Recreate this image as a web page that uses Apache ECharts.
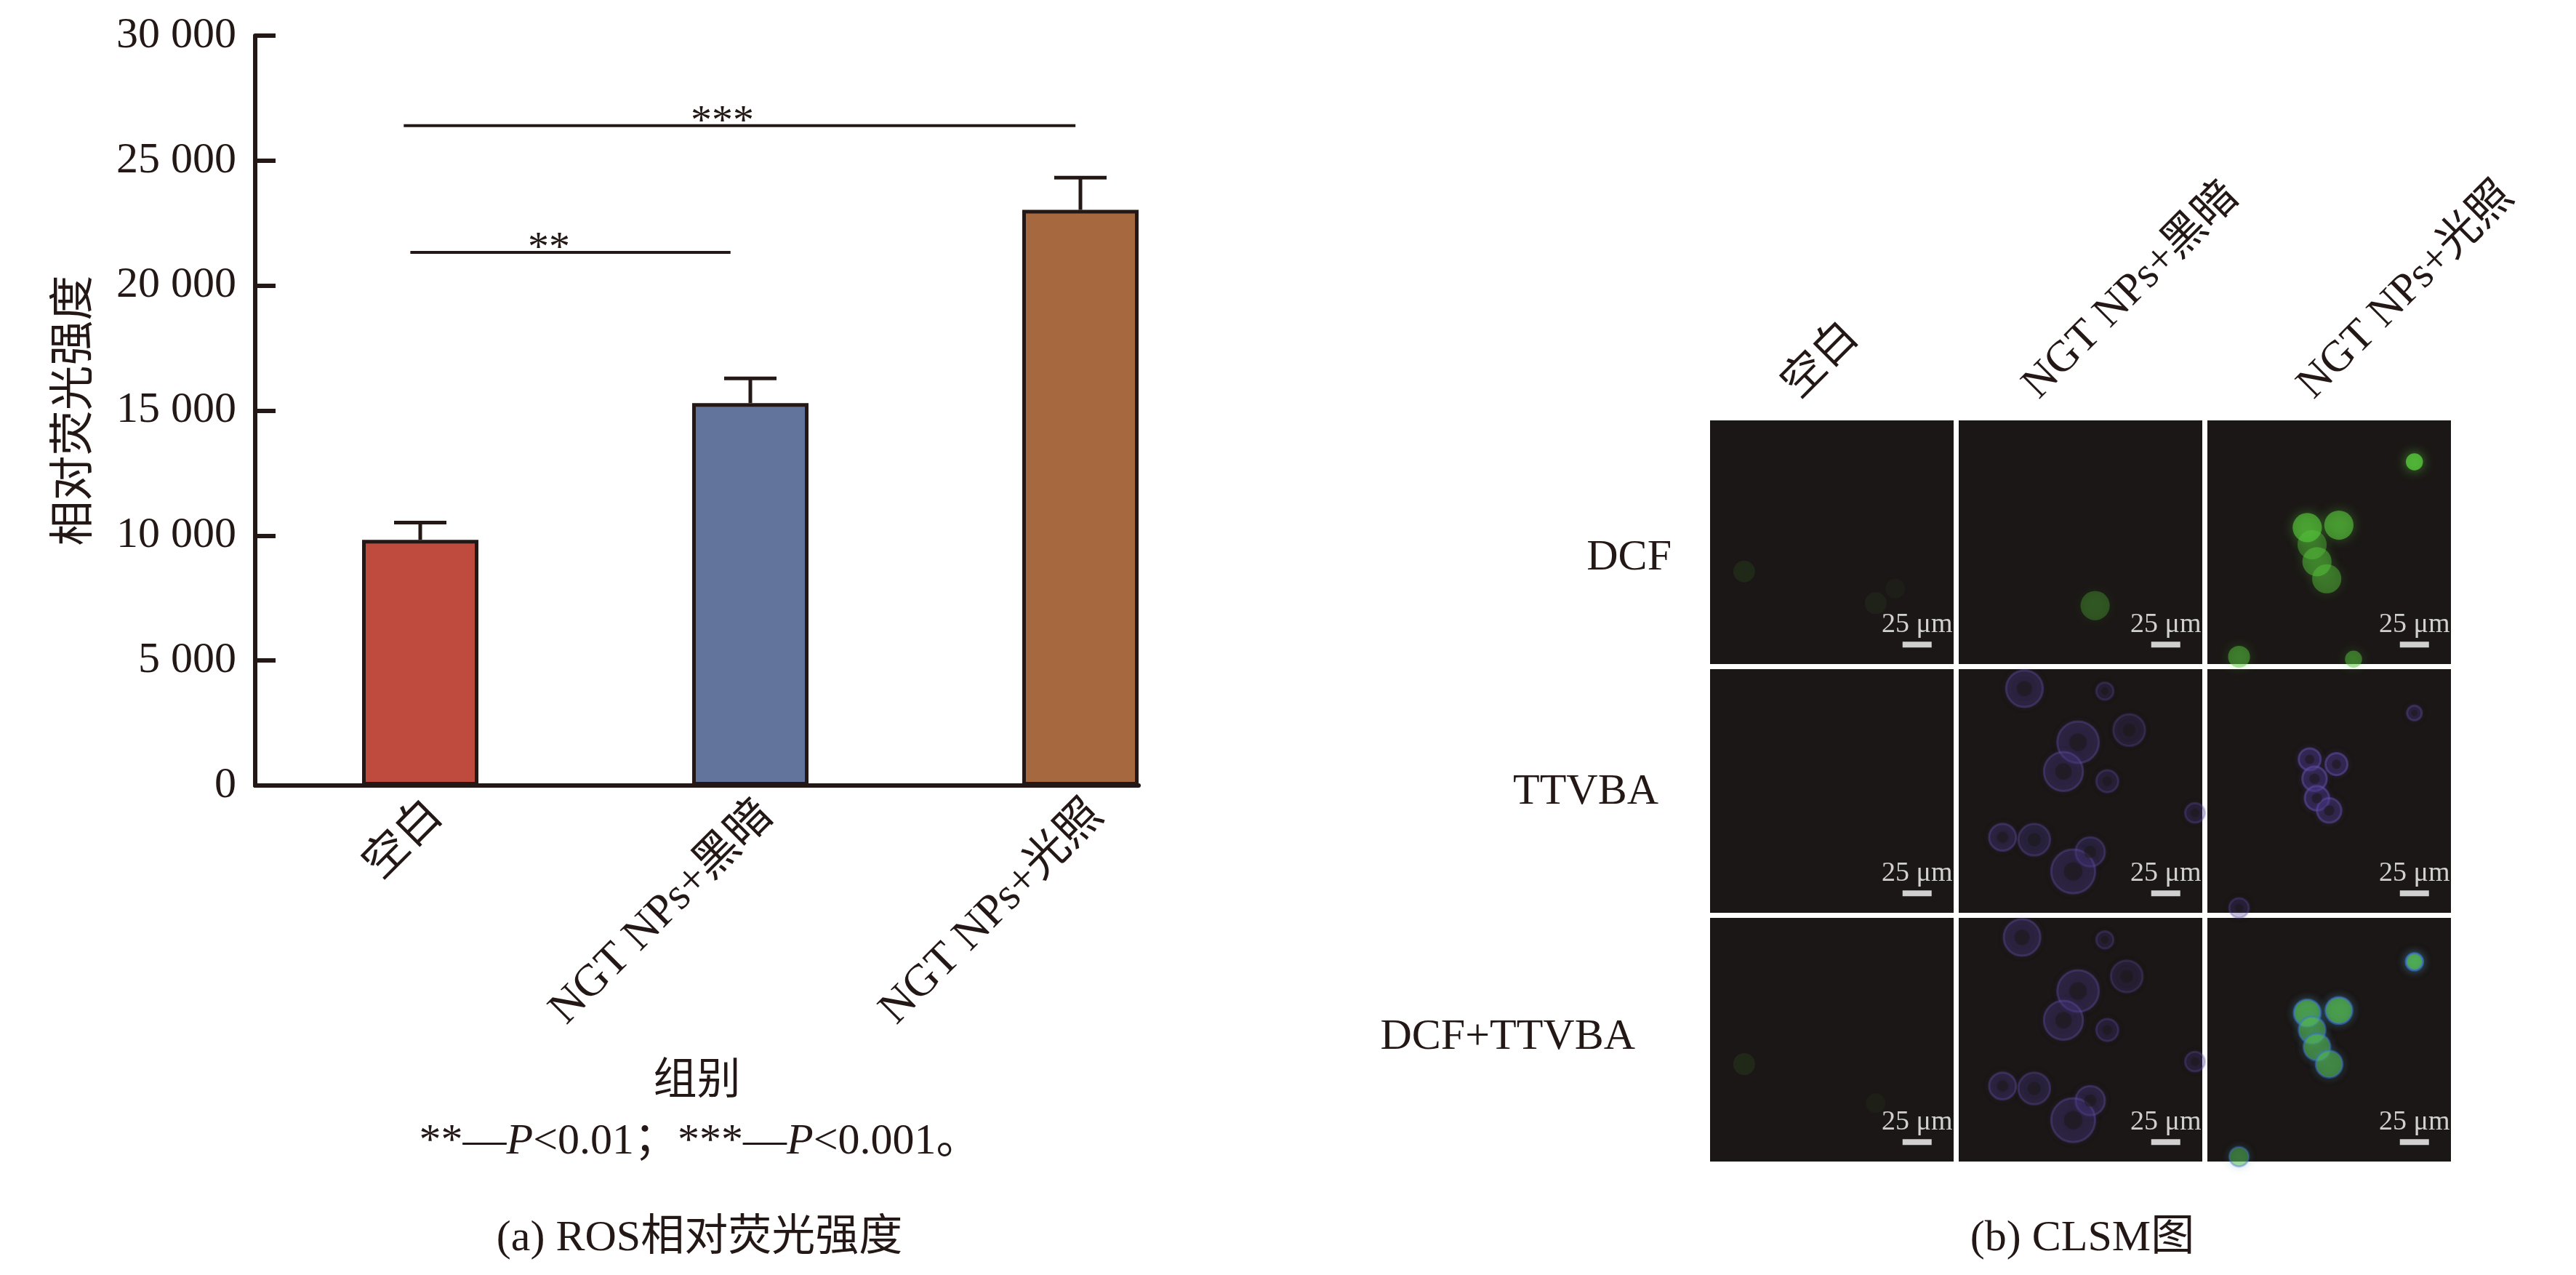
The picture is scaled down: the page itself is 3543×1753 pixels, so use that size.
<!DOCTYPE html>
<html><head><meta charset="utf-8">
<script src="https://cdn.jsdelivr.net/npm/echarts@6/dist/echarts.min.js"></script>
<style>html,body{margin:0;padding:0;background:#fff}#c{width:3543px;height:1753px}</style>
</head><body><div id="c"></div>
<script>
// ---------- data ----------
const categories = ['空白', 'NGT NPs+黑暗', 'NGT NPs+光照'];
const meanValues = [9830, 15300, 23030];
const sdValues = [690, 990, 1290];
const barColors = ['#BE4B3D', '#62749B', '#A6693F'];
// significance brackets
const sigFrom = [-0.03, -0.05];
const sigTo = [0.94, 1.985];
const sigY = [21330, 26400];
const sigLabelX = [0.39, 0.915];
const sigLabels = ['**', '***'];

// CLSM panels
const rowLabels = ['DCF', 'TTVBA', 'DCF+TTVBA'];
const colLabels = ['空白', 'NGT NPs+黑暗', 'NGT NPs+光照'];
// cells: [x%, y% (from top), diameter%, intensity]
const dcfBlank = [[14, 62, 9, 0.13], [68, 75, 9, 0.08], [76, 69, 8, 0.06]];
const dcfDark = [[56, 76, 12, 0.38]];
const dcfLight = [[85, 17, 7, 1.0], [41, 44, 12, 0.8], [54, 43, 12, 0.75], [43, 51, 12, 0.5], [45, 58, 12, 0.6], [49, 65, 12, 0.55], [13, 97, 9, 0.6], [60, 98, 7, 0.6]];
const ttvbaBlank = [];
const ttvbaDark = [[27, 8, 15, 0.55], [60, 9, 7, 0.4], [70, 25, 13, 0.4], [49, 30, 17, 0.55], [43, 42, 16, 0.55], [61, 46, 9, 0.45], [18, 69, 11, 0.55], [31, 70, 13, 0.5], [54, 75, 12, 0.5], [47, 83, 18, 0.55], [97, 59, 8, 0.45]];
const ttvbaLight = [[85, 18, 6, 0.55], [42, 37, 9, 0.75], [53, 39, 9, 0.75], [44, 45, 10, 0.75], [45, 53, 10, 0.75], [50, 58, 10, 0.7], [13, 98, 8, 0.45]];
const mergeBlank = [[14, 60, 9, 0.12], [68, 76, 8, 0.07]];
const mergeDark = [[26, 8, 15, 0.55], [60, 9, 7, 0.4], [69, 24, 13, 0.4], [49, 30, 17, 0.55], [43, 42, 16, 0.55], [61, 46, 9, 0.45], [18, 69, 11, 0.55], [31, 70, 13, 0.5], [54, 75, 12, 0.55], [47, 83, 18, 0.55], [97, 59, 8, 0.45]];
const mergeLight = [[85, 18, 7, 1.0], [41, 39, 11, 0.85], [54, 38, 11, 0.85], [43, 46, 11, 0.7], [45, 53, 11, 0.7], [50, 60, 11, 0.7], [13, 98, 8, 0.6]];
const panelCells = [dcfBlank, dcfDark, dcfLight, ttvbaBlank, ttvbaDark, ttvbaLight, mergeBlank, mergeDark, mergeLight];
const panelKinds = ['green', 'green', 'green', 'purple', 'purple', 'purple', 'green', 'purple', 'merge'];
const scaleBarPos = [85, 92];
const scaleBarText = '25 μm';

// ---------- layout / style ----------
const INK = '#231815';
const FONT = '"Liberation Serif", "Noto Sans CJK SC", serif';
const panelLeft = [2352, 2694, 3036];
const panelTop = [578, 920, 1262];
const PANEL = 335;

const chart = echarts.init(document.getElementById('c'), null, {renderer: 'canvas'});

const grids = [
  {left: 351, top: 49, width: 1362, height: 1031},
  {left: 351, top: 49, width: 1215, height: 1031}
];
const xAxes = [
  {gridIndex: 0, type: 'category', data: categories,
   axisLine: {show: false}, axisTick: {show: false},
   axisLabel: {rotate: 45, fontSize: 62, fontFamily: FONT, color: INK, margin: 10, interval: 0, verticalAlign: 'top'}},
  {gridIndex: 0, type: 'value', min: -0.5, max: 2.5, show: false},
  {gridIndex: 1, type: 'value', min: 0, max: 1,
   axisLine: {show: true, onZero: false, lineStyle: {color: INK, width: 6}},
   axisTick: {show: false}, axisLabel: {show: false}, splitLine: {show: false},
   name: '组别', nameLocation: 'middle', nameGap: 378,
   nameTextStyle: {fontSize: 60, fontFamily: FONT, color: INK}}
];
const yAxes = [
  {gridIndex: 0, type: 'value', min: 0, max: 30000, interval: 5000,
   axisLine: {show: true, onZero: false, lineStyle: {color: INK, width: 6}},
   axisTick: {show: true, inside: true, length: 28, lineStyle: {color: INK, width: 6}},
   axisLabel: {fontSize: 60, fontFamily: FONT, color: INK, margin: 26,
     formatter: v => String(v).replace(/\B(?=(\d{3})+(?!\d))/g, ' ')},
   splitLine: {show: false},
   name: '相对荧光强度', nameLocation: 'middle', nameRotate: 90, nameGap: 215,
   nameTextStyle: {fontSize: 62, fontFamily: FONT, color: INK}},
  {gridIndex: 1, type: 'value', min: 0, max: 30000, show: false}
];

const series = [
  {type: 'bar', xAxisIndex: 0, yAxisIndex: 0, barWidth: 160, z: 2,
   data: meanValues.map((v, i) => ({value: v, itemStyle: {color: barColors[i]}})),
   itemStyle: {borderColor: INK, borderWidth: 5}},
  {type: 'custom', xAxisIndex: 0, yAxisIndex: 0, z: 3,
   data: meanValues.map((v, i) => [i, v, sdValues[i]]),
   renderItem: (params, api) => {
     const p0 = api.coord([api.value(0), api.value(1)]);
     const p1 = api.coord([api.value(0), api.value(1) + api.value(2)]);
     const st = {stroke: INK, lineWidth: 5};
     return {type: 'group', children: [
       {type: 'line', shape: {x1: p0[0], y1: p0[1], x2: p1[0], y2: p1[1]}, style: st},
       {type: 'line', shape: {x1: p1[0] - 36, y1: p1[1], x2: p1[0] + 36, y2: p1[1]}, style: st}
     ]};
   }},
  {type: 'custom', xAxisIndex: 1, yAxisIndex: 0, z: 3,
   data: sigY.map((y, i) => [sigFrom[i], sigTo[i], y, sigLabelX[i]]),
   renderItem: (params, api) => {
     const a = api.coord([api.value(0), api.value(2)]);
     const b = api.coord([api.value(1), api.value(2)]);
     const t = api.coord([api.value(3), api.value(2)]);
     return {type: 'group', children: [
       {type: 'line', shape: {x1: a[0], y1: a[1], x2: b[0], y2: b[1]}, style: {stroke: INK, lineWidth: 4}},
       {type: 'text', style: {text: sigLabels[params.dataIndex], x: t[0], y: t[1] - 4,
         align: 'center', verticalAlign: 'middle', font: '58px ' + FONT, fill: INK}}
     ]};
   }}
];

// CLSM panels as grids
const kindStyle = {
  green: a => ({color: `rgba(88,200,60,${a})`, shadowBlur: 16, shadowColor: `rgba(88,200,60,${a * 0.8})`}),
  purple: a => ({color: `rgba(72,56,135,${a * 0.7})`, borderColor: `rgba(98,80,170,${a * 0.85})`, borderWidth: 3,
                 shadowBlur: 10, shadowColor: `rgba(90,70,160,${a * 0.6})`}),
  merge: a => ({color: `rgba(88,195,70,${a})`, borderColor: `rgba(60,110,220,${a * 0.8})`, borderWidth: 3,
                shadowBlur: 12, shadowColor: `rgba(70,140,170,${a * 0.8})`})
};
panelCells.forEach((cells, p) => {
  const r = Math.floor(p / 3), c = p % 3;
  const gi = grids.length;
  grids.push({left: panelLeft[c], top: panelTop[r], width: PANEL, height: PANEL,
    show: true, backgroundColor: '#1b1716', borderWidth: 0});
  const xi = xAxes.length, yi = yAxes.length;
  xAxes.push({gridIndex: gi, type: 'value', min: 0, max: 100, show: false});
  yAxes.push({gridIndex: gi, type: 'value', min: 0, max: 100, inverse: true, show: false});
  const kind = panelKinds[p];
  series.push({type: 'scatter', xAxisIndex: xi, yAxisIndex: yi, z: 2, silent: true,
    data: cells.map(d => ({value: d, itemStyle: kindStyle[kind](d[3])})),
    symbol: 'circle', symbolSize: v => v[2] / 100 * PANEL});
  if (kind === 'purple') {
    series.push({type: 'scatter', xAxisIndex: xi, yAxisIndex: yi, z: 3, silent: true,
      data: cells.map(d => d), symbol: 'circle',
      symbolSize: v => v[2] / 100 * PANEL * 0.42,
      itemStyle: {color: 'rgba(27,23,22,0.6)', shadowBlur: 6, shadowColor: 'rgba(27,23,22,0.6)'}});
  }
  series.push({type: 'scatter', xAxisIndex: xi, yAxisIndex: yi, z: 4, silent: true,
    data: [scaleBarPos], symbol: 'rect', symbolSize: [40, 8], itemStyle: {color: '#ffffff'},
    label: {show: true, position: 'top', distance: 4, formatter: scaleBarText,
      color: '#ffffff', fontSize: 38, fontFamily: FONT}});
});

// texts
const graphics = [];
const rowLabelRight = [2299, 2281, 2249];
rowLabels.forEach((t, i) => graphics.push({type: 'text', x: rowLabelRight[i], y: panelTop[i] + PANEL / 2 + [22, 2, -3][i],
  style: {text: t, align: 'right', verticalAlign: 'middle', font: '60px ' + FONT, fill: INK}}));
const colHeadX = [2484, 2814, 3192];
colLabels.forEach((t, i) => graphics.push({type: 'text', x: colHeadX[i], y: 560, rotation: Math.PI / 4,
  style: {text: t, align: 'left', verticalAlign: 'bottom', font: '60px ' + FONT, fill: INK}}));
graphics.push({type: 'text', x: 962, y: 1570, style: {
  text: '{n|**—}{i|P}{n|<0.01；***—}{i|P}{n|<0.001。}', align: 'center', verticalAlign: 'middle',
  rich: {n: {fontSize: 60, fontFamily: FONT, fill: INK, color: INK},
         i: {fontSize: 60, fontFamily: FONT, fontStyle: 'italic', fill: INK, color: INK}}}});
graphics.push({type: 'text', x: 962, y: 1703, style: {text: '(a) ROS相对荧光强度', align: 'center', verticalAlign: 'middle', font: '60px ' + FONT, fill: INK}});
graphics.push({type: 'text', x: 2864, y: 1703, style: {text: '(b) CLSM图', align: 'center', verticalAlign: 'middle', font: '60px ' + FONT, fill: INK}});

chart.setOption({
  backgroundColor: '#ffffff',
  animation: false,
  grid: grids, xAxis: xAxes, yAxis: yAxes, series: series, graphic: graphics
});
</script></body></html>
